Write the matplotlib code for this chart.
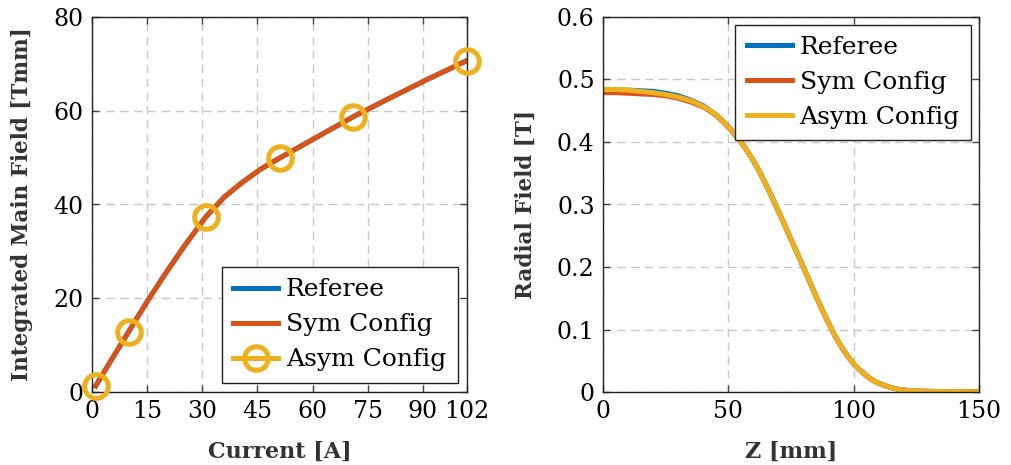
import numpy as np
import matplotlib.pyplot as plt
from matplotlib.lines import Line2D

plt.rcParams['font.family'] = ['DejaVu Serif']
plt.rcParams['font.size'] = 17

BLUE = '#0072BD'
ORANGE = '#D95319'
YELLOW = '#EDB120'
LW = 3.6

# integrated main field vs coil current
current = [1, 5, 10, 15, 20, 25, 31, 36, 41, 46, 51, 61, 71, 81, 91, 102]
int_referee = [1.3, 6.5, 12.9, 19.3, 25.3, 31.0, 37.4, 41.6, 44.8, 47.6, 49.9, 54.3, 58.7, 62.7, 66.6, 70.7]
int_sym = [1.3, 6.5, 12.9, 19.3, 25.3, 31.0, 37.4, 41.6, 44.8, 47.6, 49.9, 54.3, 58.7, 62.7, 66.6, 70.7]
asym_current = [1, 10, 31, 51, 71, 102]
int_asym = [1.2, 12.9, 37.4, 49.9, 58.7, 70.7]

# radial field along z
z_mm = [0, 5, 10, 15, 20, 25, 30, 35, 40, 42.5, 45, 47.5, 50, 52.5, 55, 57.5, 60,
        62.5, 65, 67.5, 70, 72.5, 75, 77.5, 80, 82.5, 85, 87.5, 90, 92.5, 95, 97.5,
        100, 102.5, 105, 107.5, 110, 112.5, 115, 117.5, 120, 125, 130, 140, 150]
br_referee = [0.483, 0.483, 0.483, 0.482, 0.481, 0.478, 0.474, 0.467, 0.458, 0.451, 0.444,
              0.435, 0.425, 0.413, 0.400, 0.386, 0.370, 0.352, 0.332, 0.311, 0.289, 0.267,
              0.244, 0.222, 0.199, 0.176, 0.153, 0.131, 0.110, 0.090, 0.073, 0.058, 0.045,
              0.035, 0.026, 0.019, 0.014, 0.010, 0.007, 0.0045, 0.003, 0.0015, 0.001,
              0.0005, 0.0003]
br_sym = [0.479, 0.479, 0.478, 0.477, 0.476, 0.474, 0.470, 0.464, 0.456, 0.450, 0.443,
          0.434, 0.424, 0.412, 0.400, 0.386, 0.370, 0.352, 0.332, 0.311, 0.289, 0.267,
          0.244, 0.222, 0.199, 0.176, 0.153, 0.131, 0.110, 0.090, 0.073, 0.058, 0.045,
          0.035, 0.026, 0.019, 0.014, 0.010, 0.007, 0.0045, 0.003, 0.0015, 0.001,
          0.0005, 0.0003]
br_asym = [0.484, 0.484, 0.483, 0.481, 0.479, 0.476, 0.472, 0.466, 0.457, 0.451, 0.444,
           0.435, 0.425, 0.413, 0.400, 0.386, 0.370, 0.352, 0.332, 0.311, 0.289, 0.267,
           0.244, 0.222, 0.199, 0.176, 0.153, 0.131, 0.110, 0.090, 0.073, 0.058, 0.045,
           0.035, 0.026, 0.019, 0.014, 0.010, 0.007, 0.0045, 0.003, 0.0015, 0.001,
           0.0005, 0.0003]


def style_axes(ax):
    ax.grid(True, color='#c8c8c8', linestyle=(0, (6, 4)), linewidth=1.0)
    ax.set_axisbelow(True)
    ax.tick_params(direction='in', top=True, right=True, length=5, width=1.0,
                   color='#444444', pad=6)
    for s in ax.spines.values():
        s.set_color('#222222')
        s.set_linewidth(1.0)


def make_legend(ax, *args, **kw):
    leg = ax.legend(*args, fancybox=False, framealpha=1, edgecolor='#222222',
                    fontsize=18, handlelength=1.8, handletextpad=0.32,
                    labelspacing=0.48, borderpad=0.45, **kw)
    leg.get_frame().set_linewidth(1.0)
    return leg


fig = plt.figure(figsize=(10.11, 4.65), dpi=100)
W, H = 1011, 465

# left: integrated field
ax1 = fig.add_axes([92 / W, 73 / H, 375 / W, 375 / H])
ax1.plot(current, int_referee, color=BLUE, lw=LW)
ax1.plot(current, int_sym, color=ORANGE, lw=LW)
ax1.plot(asym_current, int_asym, linestyle='none', marker='o', ms=17,
         mfc='none', mec=YELLOW, mew=LW, clip_on=False, zorder=5)
ax1.set_xlim(0, 102)
ax1.set_ylim(0, 80)
ax1.set_xticks([0, 15, 30, 45, 60, 75, 90, 102])
ax1.set_yticks([0, 20, 40, 60, 80])
style_axes(ax1)
ax1.set_xlabel('Current [A]', fontweight='bold', color='#333333', fontsize=16, va='top')
ax1.xaxis.set_label_coords(0.5, -0.13)
ax1.set_ylabel('Integrated Main Field [Tmm]', fontweight='bold', color='#333333', fontsize=15.5)
ax1.yaxis.set_label_coords(-0.157, 0.5)
handles = [Line2D([], [], color=BLUE, lw=LW),
           Line2D([], [], color=ORANGE, lw=LW),
           Line2D([], [], color=YELLOW, lw=LW, marker='o', ms=17, mfc='none', mew=LW)]
make_legend(ax1, handles, ['Referee', 'Sym Config', 'Asym Config'],
            loc='lower right', borderaxespad=0.38)

# right: radial field profile
ax2 = fig.add_axes([603 / W, 73 / H, 376 / W, 375 / H])
ax2.plot(z_mm, br_referee, color=BLUE, lw=LW, label='Referee')
ax2.plot(z_mm, br_sym, color=ORANGE, lw=LW, label='Sym Config')
ax2.plot(z_mm, br_asym, color=YELLOW, lw=LW, label='Asym Config')
ax2.set_xlim(0, 150)
ax2.set_ylim(0, 0.6)
ax2.set_xticks([0, 50, 100, 150])
ax2.set_yticks([0, 0.1, 0.2, 0.3, 0.4, 0.5, 0.6])
ax2.set_yticklabels(['0', '0.1', '0.2', '0.3', '0.4', '0.5', '0.6'])
style_axes(ax2)
ax2.set_xlabel('Z [mm]', fontweight='bold', color='#333333', fontsize=16, va='top')
ax2.xaxis.set_label_coords(0.5, -0.13)
ax2.set_ylabel('Radial Field [T]', fontweight='bold', color='#333333', fontsize=15.5)
ax2.yaxis.set_label_coords(-0.176, 0.5)
make_legend(ax2, loc='upper right', borderaxespad=0.32)

fig.savefig('out.png', dpi=100)
